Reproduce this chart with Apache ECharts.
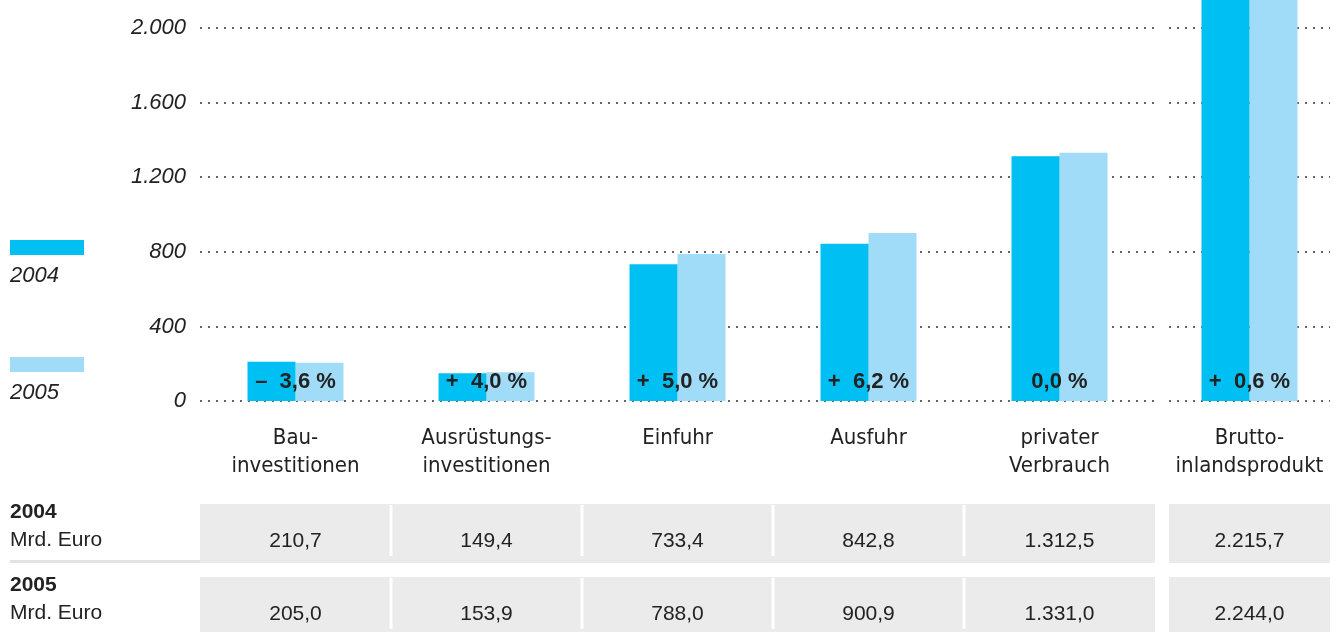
<!DOCTYPE html>
<html><head><meta charset="utf-8">
<script src="https://cdn.jsdelivr.net/npm/echarts@6/dist/echarts.min.js"></script>
<style>html,body{margin:0;padding:0;background:#fff}#c{width:1339px;height:632px}</style>
</head><body><div id="c"></div>
<script>
var categories = ['Bau-\ninvestitionen', 'Ausrüstungs-\ninvestitionen', 'Einfuhr', 'Ausfuhr', 'privater\nVerbrauch', 'Brutto-\ninlandsprodukt'];
var values2004 = [210.7, 149.4, 733.4, 842.8, 1312.5, 2215.7];
var values2005 = [205.0, 153.9, 788.0, 900.9, 1331.0, 2244.0];
var changeLabels = ['–  3,6 %', '+  4,0 %', '+  5,0 %', '+  6,2 %', '0,0 %', '+  0,6 %'];
var seriesNames = ['2004', '2005'];
var rowUnit = 'Mrd. Euro';
var yTicks = [0, 400, 800, 1200, 1600, 2000];

var C1 = '#00c0f3', C2 = '#a0dcf7';
var FONT = '"Liberation Sans", Arial, sans-serif';
var NARROW = '"DejaVu Sans Condensed", "Liberation Sans", sans-serif';
var TXT = '#222';

function de(v, dec) {
  var s = v.toFixed(dec);
  var parts = s.split('.');
  var i = parts[0].replace(/\B(?=(\d{3})+(?!\d))/g, '.');
  return parts.length > 1 ? i + ',' + parts[1] : i;
}

var chart = echarts.init(document.getElementById('c'), null, {renderer: 'canvas'});
var grids = [
  {left: 200, top: 28, width: 955, height: 373},
  {left: 1169, top: 28, width: 161, height: 373}
];
var split = [[0, 5], [5, 6]];
var xAxes = [], yAxes = [], series = [];
grids.forEach(function (g, gi) {
  xAxes.push({
    type: 'category', gridIndex: gi, data: categories.slice(split[gi][0], split[gi][1]),
    axisLine: {show: false}, axisTick: {show: false},
    axisLabel: {fontFamily: NARROW, fontSize: 22, color: TXT, lineHeight: 28, margin: 23, interval: 0}
  });
  yAxes.push({
    type: 'value', gridIndex: gi, min: yTicks[0], max: yTicks[yTicks.length - 1], interval: yTicks[1] - yTicks[0],
    axisLine: {show: false}, axisTick: {show: false},
    axisLabel: {show: gi === 0, fontFamily: FONT, fontSize: 22, fontStyle: 'italic', color: TXT, margin: 14,
      formatter: function (v) { return de(v, 0); }},
    splitLine: {show: true, lineStyle: {color: '#333', width: 1.5, type: [2, 6]}}
  });
  var a = values2004.slice(split[gi][0], split[gi][1]);
  var b = values2005.slice(split[gi][0], split[gi][1]);
  var lbl = changeLabels.slice(split[gi][0], split[gi][1]);
  series.push({
    type: 'bar', name: seriesNames[0], xAxisIndex: gi, yAxisIndex: gi, data: a, barWidth: 48, barGap: '0%',
    clip: false, itemStyle: {color: C1}, silent: true,
    label: {show: true, position: 'insideBottom', distance: 8, offset: [24, 0], fontFamily: FONT, fontSize: 22,
      fontWeight: 'bold', color: TXT, formatter: function (p) { return lbl[p.dataIndex]; }}
  });
  series.push({
    type: 'bar', name: seriesNames[1], xAxisIndex: gi, yAxisIndex: gi, data: b, barWidth: 48, barGap: '0%',
    clip: false, itemStyle: {color: C2}, silent: true, z: 1
  });
});

chart.setOption({
  animation: false,
  grid: grids,
  xAxis: xAxes,
  yAxis: yAxes,
  series: series
});

var gr = [];
gr.push({type: 'rect', left: 10, top: 240, shape: {width: 74, height: 15}, style: {fill: C1}});
gr.push({type: 'text', left: 10, top: 265, style: {text: seriesNames[0], font: 'italic 22px ' + FONT, fill: TXT}});
gr.push({type: 'rect', left: 10, top: 357, shape: {width: 74, height: 15}, style: {fill: C2}});
gr.push({type: 'text', left: 10, top: 382, style: {text: seriesNames[1], font: 'italic 22px ' + FONT, fill: TXT}});

var rows = [{top: 504, vals: values2004, name: seriesNames[0]}, {top: 577, vals: values2005, name: seriesNames[1]}];
var rowH = 59;
rows.forEach(function (r) {
  gr.push({type: 'text', left: 10, top: r.top - 2, style: {text: r.name, font: 'bold 21px ' + FONT, fill: TXT}});
  gr.push({type: 'text', left: 10, top: r.top + 26, style: {text: rowUnit, font: '21px ' + FONT, fill: TXT}});
  gr.push({type: 'rect', shape: {x: 10, y: r.top + rowH - 3, width: 190, height: 3}, style: {fill: '#e3e3e3'}});
  grids.forEach(function (g, gi) {
    gr.push({type: 'rect', shape: {x: g.left, y: r.top, width: g.width, height: rowH}, style: {fill: '#ebebeb'}});
    var n = split[gi][1] - split[gi][0];
    var cw = g.width / n;
    for (var k = 0; k < n; k++) {
      var idx = split[gi][0] + k;
      var cx = chart.convertToPixel({xAxisIndex: gi}, categories[idx]);
      if (k > 0) {
        gr.push({type: 'rect', shape: {x: g.left + k * cw - 1.5, y: r.top + 1, width: 3, height: rowH - 8}, style: {fill: '#fff'}});
      }
      gr.push({type: 'text', x: cx, y: r.top + 37, style: {text: de(r.vals[idx], 1), font: '21px ' + FONT, fill: TXT,
        align: 'center', verticalAlign: 'middle'}});
    }
  });
});
chart.setOption({graphic: gr});
</script></body></html>
